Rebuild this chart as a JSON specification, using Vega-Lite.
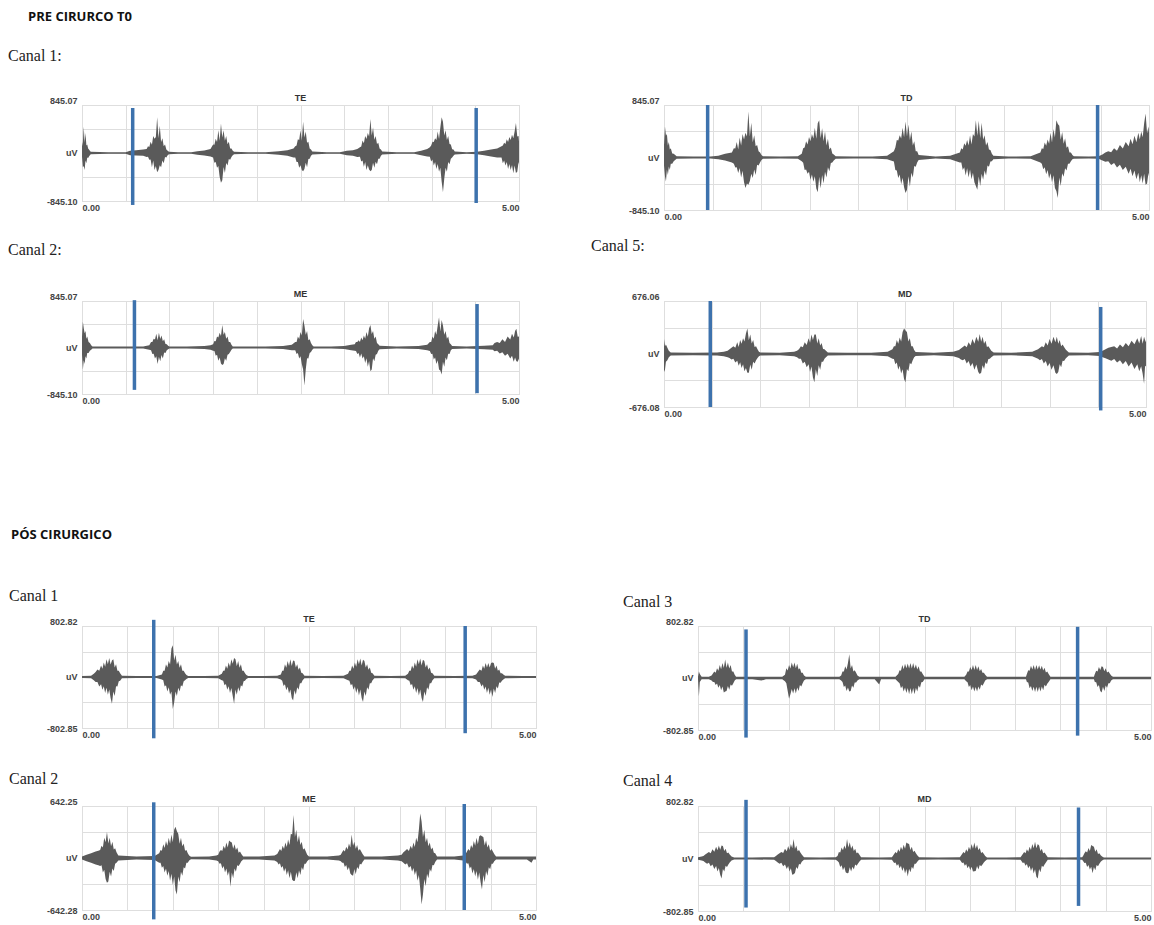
{
"$schema":"https://vega.github.io/schema/vega-lite/v6.json",
"padding":{"left":7,"top":10,"right":0,"bottom":0},
"autosize":{"type":"pad"},
"spacing":109,
"config":{"view":{"stroke":"#cfcfcf"},"axis":{"gridColor":"#dedede","labelFont":"Liberation Sans","labelFontSize":9,"labelFontWeight":"bold","labelColor":"#444","ticks":false,"domain":false,"title":null,"labelOverlap":false},"title":{"font":"Liberation Serif","fontSize":16,"fontWeight":"normal","anchor":"start","frame":"group","color":"#222"},"area":{"color":"#5a5a5a"},"rule":{"color":"#3d72ad","strokeWidth":3.5},"text":{"font":"Liberation Sans","fontSize":9,"fontWeight":"bold","color":"#333","baseline":"bottom","dy":-2}},
"datasets":{
"preTE":[{"t":0,"v":120,"l":-65},{"t":0.01,"v":195,"l":-250},{"t":0.02,"v":460,"l":-230},{"t":0.03,"v":180,"l":-300},{"t":0.04,"v":350,"l":-130},{"t":0.05,"v":130,"l":-180},{"t":0.06,"v":150,"l":-80},{"t":0.07,"v":80,"l":-90},{"t":0.08,"v":60,"l":-60},{"t":0.09,"v":40,"l":-40},{"t":0.1,"v":20,"l":-20},{"t":0.3,"v":15,"l":-15},{"t":0.5,"v":15,"l":-15},{"t":0.55,"v":40,"l":-40},{"t":0.62,"v":50,"l":-45},{"t":0.7,"v":60,"l":-50},{"t":0.74,"v":70,"l":-70},{"t":0.755,"v":120,"l":-65},{"t":0.77,"v":105,"l":-120},{"t":0.785,"v":200,"l":-115},{"t":0.8,"v":145,"l":-250},{"t":0.815,"v":300,"l":-130},{"t":0.83,"v":250,"l":-300},{"t":0.845,"v":280,"l":-230},{"t":0.86,"v":630,"l":-340},{"t":0.875,"v":260,"l":-300},{"t":0.89,"v":480,"l":-215},{"t":0.905,"v":195,"l":-250},{"t":0.92,"v":260,"l":-130},{"t":0.935,"v":120,"l":-180},{"t":0.95,"v":150,"l":-70},{"t":0.965,"v":60,"l":-80},{"t":0.98,"v":40,"l":-40},{"t":0.995,"v":20,"l":-20},{"t":1.1,"v":15,"l":-15},{"t":1.25,"v":15,"l":-15},{"t":1.32,"v":30,"l":-30},{"t":1.4,"v":45,"l":-45},{"t":1.47,"v":70,"l":-60},{"t":1.5,"v":150,"l":-80},{"t":1.515,"v":145,"l":-170},{"t":1.53,"v":250,"l":-160},{"t":1.545,"v":195,"l":-260},{"t":1.56,"v":400,"l":-230},{"t":1.575,"v":215,"l":-420},{"t":1.59,"v":520,"l":-525},{"t":1.605,"v":275,"l":-480},{"t":1.62,"v":400,"l":-245},{"t":1.635,"v":215,"l":-350},{"t":1.65,"v":300,"l":-175},{"t":1.665,"v":155,"l":-220},{"t":1.68,"v":200,"l":-105},{"t":1.695,"v":80,"l":-120},{"t":1.71,"v":80,"l":-70},{"t":1.725,"v":40,"l":-40},{"t":1.74,"v":20,"l":-20},{"t":1.9,"v":15,"l":-15},{"t":2.1,"v":15,"l":-15},{"t":2.25,"v":30,"l":-30},{"t":2.35,"v":50,"l":-50},{"t":2.42,"v":80,"l":-80},{"t":2.44,"v":120,"l":-80},{"t":2.455,"v":130,"l":-160},{"t":2.47,"v":240,"l":-160},{"t":2.485,"v":230,"l":-260},{"t":2.5,"v":400,"l":-215},{"t":2.515,"v":215,"l":-300},{"t":2.53,"v":550,"l":-320},{"t":2.545,"v":275,"l":-280},{"t":2.56,"v":380,"l":-170},{"t":2.575,"v":180,"l":-250},{"t":2.59,"v":200,"l":-105},{"t":2.605,"v":80,"l":-100},{"t":2.62,"v":60,"l":-50},{"t":2.635,"v":25,"l":-25},{"t":2.8,"v":15,"l":-15},{"t":2.95,"v":15,"l":-15},{"t":3.03,"v":40,"l":-40},{"t":3.1,"v":50,"l":-50},{"t":3.15,"v":70,"l":-70},{"t":3.18,"v":100,"l":-65},{"t":3.195,"v":115,"l":-150},{"t":3.21,"v":220,"l":-130},{"t":3.225,"v":170,"l":-240},{"t":3.24,"v":300,"l":-160},{"t":3.255,"v":245,"l":-300},{"t":3.27,"v":350,"l":-215},{"t":3.285,"v":290,"l":-290},{"t":3.3,"v":600,"l":-320},{"t":3.315,"v":310,"l":-300},{"t":3.33,"v":450,"l":-170},{"t":3.345,"v":235,"l":-260},{"t":3.36,"v":300,"l":-155},{"t":3.375,"v":160,"l":-200},{"t":3.39,"v":180,"l":-100},{"t":3.405,"v":80,"l":-100},{"t":3.42,"v":60,"l":-50},{"t":3.435,"v":25,"l":-25},{"t":3.6,"v":15,"l":-15},{"t":3.8,"v":15,"l":-15},{"t":3.88,"v":40,"l":-40},{"t":3.95,"v":70,"l":-60},{"t":3.98,"v":100,"l":-65},{"t":3.995,"v":130,"l":-150},{"t":4.01,"v":200,"l":-115},{"t":4.025,"v":195,"l":-220},{"t":4.04,"v":260,"l":-160},{"t":4.055,"v":230,"l":-280},{"t":4.07,"v":380,"l":-195},{"t":4.085,"v":245,"l":-330},{"t":4.1,"v":450,"l":-260},{"t":4.115,"v":630,"l":-500},{"t":4.13,"v":550,"l":-690},{"t":4.145,"v":310,"l":-450},{"t":4.16,"v":400,"l":-260},{"t":4.175,"v":230,"l":-330},{"t":4.19,"v":300,"l":-160},{"t":4.205,"v":160,"l":-200},{"t":4.22,"v":150,"l":-100},{"t":4.235,"v":65,"l":-80},{"t":4.25,"v":60,"l":-50},{"t":4.265,"v":25,"l":-25},{"t":4.4,"v":15,"l":-15},{"t":4.52,"v":20,"l":-20},{"t":4.6,"v":40,"l":-40},{"t":4.68,"v":60,"l":-60},{"t":4.75,"v":80,"l":-80},{"t":4.8,"v":120,"l":-80},{"t":4.815,"v":130,"l":-180},{"t":4.83,"v":180,"l":-130},{"t":4.845,"v":160,"l":-220},{"t":4.86,"v":240,"l":-160},{"t":4.875,"v":195,"l":-280},{"t":4.89,"v":280,"l":-195},{"t":4.905,"v":230,"l":-300},{"t":4.92,"v":320,"l":-210},{"t":4.935,"v":260,"l":-355},{"t":4.95,"v":380,"l":-220},{"t":4.965,"v":530,"l":-350},{"t":4.98,"v":290,"l":-330},{"t":4.995,"v":300,"l":-160},{"t":5.0,"v":200,"l":-200}],
"preTD":[{"t":0,"v":200,"l":-130},{"t":0.01,"v":500,"l":-300},{"t":0.02,"v":350,"l":-385},{"t":0.03,"v":380,"l":-195},{"t":0.04,"v":195,"l":-280},{"t":0.05,"v":250,"l":-145},{"t":0.06,"v":130,"l":-200},{"t":0.07,"v":150,"l":-100},{"t":0.085,"v":65,"l":-100},{"t":0.1,"v":60,"l":-60},{"t":0.115,"v":40,"l":-40},{"t":0.13,"v":20,"l":-20},{"t":0.3,"v":15,"l":-15},{"t":0.48,"v":15,"l":-15},{"t":0.56,"v":30,"l":-30},{"t":0.63,"v":60,"l":-50},{"t":0.7,"v":80,"l":-80},{"t":0.72,"v":150,"l":-100},{"t":0.735,"v":145,"l":-160},{"t":0.75,"v":250,"l":-155},{"t":0.765,"v":130,"l":-250},{"t":0.78,"v":320,"l":-170},{"t":0.795,"v":195,"l":-320},{"t":0.81,"v":380,"l":-215},{"t":0.825,"v":290,"l":-400},{"t":0.84,"v":400,"l":-490},{"t":0.855,"v":340,"l":-420},{"t":0.87,"v":740,"l":-440},{"t":0.885,"v":340,"l":-380},{"t":0.9,"v":560,"l":-260},{"t":0.915,"v":245,"l":-330},{"t":0.93,"v":360,"l":-195},{"t":0.945,"v":180,"l":-280},{"t":0.96,"v":200,"l":-115},{"t":0.975,"v":100,"l":-130},{"t":0.99,"v":80,"l":-80},{"t":1.005,"v":40,"l":-40},{"t":1.02,"v":20,"l":-20},{"t":1.2,"v":15,"l":-15},{"t":1.38,"v":20,"l":-20},{"t":1.42,"v":60,"l":-60},{"t":1.435,"v":150,"l":-85},{"t":1.45,"v":160,"l":-200},{"t":1.465,"v":260,"l":-195},{"t":1.48,"v":210,"l":-260},{"t":1.495,"v":330,"l":-230},{"t":1.51,"v":260,"l":-360},{"t":1.525,"v":380,"l":-275},{"t":1.54,"v":305,"l":-390},{"t":1.555,"v":480,"l":-300},{"t":1.57,"v":300,"l":-500},{"t":1.585,"v":550,"l":-560},{"t":1.6,"v":600,"l":-310},{"t":1.615,"v":310,"l":-500},{"t":1.63,"v":470,"l":-280},{"t":1.645,"v":260,"l":-420},{"t":1.66,"v":420,"l":-230},{"t":1.675,"v":195,"l":-320},{"t":1.69,"v":300,"l":-155},{"t":1.705,"v":130,"l":-220},{"t":1.72,"v":160,"l":-90},{"t":1.735,"v":65,"l":-80},{"t":1.75,"v":50,"l":-50},{"t":1.77,"v":20,"l":-20},{"t":1.95,"v":15,"l":-15},{"t":2.15,"v":15,"l":-15},{"t":2.3,"v":30,"l":-30},{"t":2.37,"v":100,"l":-65},{"t":2.385,"v":160,"l":-200},{"t":2.4,"v":280,"l":-210},{"t":2.415,"v":275,"l":-330},{"t":2.43,"v":360,"l":-275},{"t":2.445,"v":305,"l":-430},{"t":2.46,"v":480,"l":-325},{"t":2.475,"v":325,"l":-480},{"t":2.49,"v":580,"l":-570},{"t":2.505,"v":340,"l":-520},{"t":2.52,"v":530,"l":-300},{"t":2.535,"v":280,"l":-470},{"t":2.55,"v":420,"l":-245},{"t":2.565,"v":195,"l":-320},{"t":2.58,"v":260,"l":-135},{"t":2.595,"v":100,"l":-150},{"t":2.61,"v":100,"l":-80},{"t":2.625,"v":40,"l":-40},{"t":2.8,"v":15,"l":-15},{"t":2.95,"v":30,"l":-30},{"t":3.05,"v":80,"l":-80},{"t":3.065,"v":150,"l":-80},{"t":3.08,"v":130,"l":-200},{"t":3.095,"v":230,"l":-155},{"t":3.11,"v":190,"l":-290},{"t":3.125,"v":280,"l":-175},{"t":3.14,"v":195,"l":-320},{"t":3.155,"v":360,"l":-195},{"t":3.17,"v":210,"l":-350},{"t":3.185,"v":380,"l":-245},{"t":3.2,"v":340,"l":-400},{"t":3.215,"v":600,"l":-460},{"t":3.23,"v":350,"l":-520},{"t":3.245,"v":590,"l":-305},{"t":3.26,"v":310,"l":-460},{"t":3.275,"v":560,"l":-260},{"t":3.29,"v":285,"l":-360},{"t":3.305,"v":360,"l":-210},{"t":3.32,"v":195,"l":-290},{"t":3.335,"v":250,"l":-130},{"t":3.35,"v":130,"l":-150},{"t":3.365,"v":120,"l":-65},{"t":3.38,"v":60,"l":-60},{"t":3.395,"v":30,"l":-30},{"t":3.55,"v":15,"l":-15},{"t":3.78,"v":20,"l":-20},{"t":3.88,"v":80,"l":-80},{"t":3.895,"v":150,"l":-100},{"t":3.91,"v":135,"l":-190},{"t":3.925,"v":240,"l":-155},{"t":3.94,"v":190,"l":-270},{"t":3.955,"v":290,"l":-200},{"t":3.97,"v":220,"l":-340},{"t":3.985,"v":400,"l":-255},{"t":4.0,"v":240,"l":-400},{"t":4.015,"v":460,"l":-285},{"t":4.03,"v":320,"l":-490},{"t":4.045,"v":600,"l":-540},{"t":4.06,"v":540,"l":-650},{"t":4.075,"v":510,"l":-320},{"t":4.09,"v":285,"l":-460},{"t":4.105,"v":410,"l":-255},{"t":4.12,"v":220,"l":-310},{"t":4.135,"v":310,"l":-175},{"t":4.15,"v":155,"l":-210},{"t":4.165,"v":180,"l":-100},{"t":4.18,"v":80,"l":-100},{"t":4.195,"v":80,"l":-60},{"t":4.21,"v":40,"l":-30},{"t":4.225,"v":20,"l":-20},{"t":4.38,"v":15,"l":-15},{"t":4.48,"v":20,"l":-20},{"t":4.52,"v":50,"l":-50},{"t":4.55,"v":80,"l":-70},{"t":4.58,"v":100,"l":-60},{"t":4.61,"v":85,"l":-120},{"t":4.64,"v":150,"l":-90},{"t":4.67,"v":110,"l":-160},{"t":4.7,"v":200,"l":-115},{"t":4.73,"v":145,"l":-200},{"t":4.76,"v":250,"l":-150},{"t":4.79,"v":180,"l":-260},{"t":4.81,"v":300,"l":-180},{"t":4.83,"v":215,"l":-300},{"t":4.85,"v":350,"l":-210},{"t":4.87,"v":245,"l":-350},{"t":4.89,"v":400,"l":-245},{"t":4.905,"v":290,"l":-400},{"t":4.92,"v":420,"l":-285},{"t":4.935,"v":325,"l":-420},{"t":4.95,"v":550,"l":-260},{"t":4.965,"v":710,"l":-440},{"t":4.98,"v":390,"l":-420},{"t":4.995,"v":500,"l":-245},{"t":5.0,"v":400,"l":-300}],
"preME":[{"t":0,"v":200,"l":-130},{"t":0.01,"v":470,"l":-400},{"t":0.02,"v":350,"l":-230},{"t":0.03,"v":260,"l":-300},{"t":0.04,"v":300,"l":-160},{"t":0.05,"v":160,"l":-200},{"t":0.06,"v":200,"l":-100},{"t":0.075,"v":100,"l":-100},{"t":0.09,"v":80,"l":-60},{"t":0.105,"v":40,"l":-40},{"t":0.12,"v":20,"l":-20},{"t":0.3,"v":20,"l":-20},{"t":0.5,"v":20,"l":-20},{"t":0.7,"v":20,"l":-20},{"t":0.77,"v":40,"l":-40},{"t":0.79,"v":100,"l":-50},{"t":0.805,"v":100,"l":-120},{"t":0.82,"v":160,"l":-115},{"t":0.835,"v":145,"l":-200},{"t":0.85,"v":250,"l":-160},{"t":0.865,"v":130,"l":-300},{"t":0.88,"v":270,"l":-170},{"t":0.895,"v":155,"l":-250},{"t":0.91,"v":220,"l":-135},{"t":0.925,"v":115,"l":-200},{"t":0.94,"v":150,"l":-90},{"t":0.955,"v":65,"l":-100},{"t":0.97,"v":60,"l":-50},{"t":0.985,"v":30,"l":-30},{"t":1.0,"v":20,"l":-20},{"t":1.2,"v":20,"l":-20},{"t":1.4,"v":25,"l":-25},{"t":1.47,"v":40,"l":-40},{"t":1.5,"v":60,"l":-60},{"t":1.515,"v":120,"l":-65},{"t":1.53,"v":115,"l":-150},{"t":1.545,"v":200,"l":-130},{"t":1.56,"v":180,"l":-240},{"t":1.575,"v":270,"l":-180},{"t":1.59,"v":210,"l":-290},{"t":1.605,"v":410,"l":-320},{"t":1.62,"v":230,"l":-300},{"t":1.635,"v":280,"l":-195},{"t":1.65,"v":160,"l":-240},{"t":1.665,"v":200,"l":-130},{"t":1.68,"v":100,"l":-120},{"t":1.695,"v":100,"l":-80},{"t":1.71,"v":50,"l":-40},{"t":1.725,"v":20,"l":-20},{"t":1.9,"v":20,"l":-20},{"t":2.1,"v":20,"l":-20},{"t":2.3,"v":25,"l":-25},{"t":2.4,"v":50,"l":-50},{"t":2.44,"v":100,"l":-50},{"t":2.455,"v":100,"l":-120},{"t":2.47,"v":200,"l":-100},{"t":2.485,"v":155,"l":-200},{"t":2.5,"v":280,"l":-160},{"t":2.515,"v":220,"l":-300},{"t":2.53,"v":520,"l":-400},{"t":2.545,"v":400,"l":-690},{"t":2.56,"v":230,"l":-400},{"t":2.575,"v":300,"l":-195},{"t":2.59,"v":130,"l":-200},{"t":2.605,"v":150,"l":-100},{"t":2.62,"v":80,"l":-80},{"t":2.635,"v":40,"l":-40},{"t":2.65,"v":20,"l":-20},{"t":2.85,"v":20,"l":-20},{"t":3.0,"v":25,"l":-25},{"t":3.08,"v":50,"l":-50},{"t":3.12,"v":60,"l":-60},{"t":3.135,"v":100,"l":-65},{"t":3.15,"v":100,"l":-120},{"t":3.165,"v":130,"l":-100},{"t":3.18,"v":100,"l":-180},{"t":3.195,"v":180,"l":-110},{"t":3.21,"v":130,"l":-200},{"t":3.225,"v":220,"l":-160},{"t":3.24,"v":160,"l":-280},{"t":3.255,"v":280,"l":-195},{"t":3.27,"v":195,"l":-350},{"t":3.285,"v":350,"l":-245},{"t":3.3,"v":410,"l":-430},{"t":3.315,"v":245,"l":-400},{"t":3.33,"v":300,"l":-195},{"t":3.345,"v":160,"l":-250},{"t":3.36,"v":200,"l":-130},{"t":3.375,"v":80,"l":-120},{"t":3.39,"v":60,"l":-60},{"t":3.405,"v":30,"l":-30},{"t":3.6,"v":20,"l":-20},{"t":3.85,"v":25,"l":-25},{"t":3.95,"v":50,"l":-50},{"t":3.98,"v":100,"l":-65},{"t":3.995,"v":100,"l":-120},{"t":4.01,"v":200,"l":-115},{"t":4.025,"v":160,"l":-220},{"t":4.04,"v":300,"l":-180},{"t":4.055,"v":230,"l":-300},{"t":4.07,"v":400,"l":-230},{"t":4.085,"v":550,"l":-400},{"t":4.1,"v":290,"l":-420},{"t":4.115,"v":500,"l":-490},{"t":4.13,"v":400,"l":-260},{"t":4.145,"v":230,"l":-350},{"t":4.16,"v":300,"l":-180},{"t":4.175,"v":160,"l":-230},{"t":4.19,"v":200,"l":-115},{"t":4.205,"v":80,"l":-120},{"t":4.22,"v":60,"l":-50},{"t":4.235,"v":25,"l":-25},{"t":4.4,"v":20,"l":-20},{"t":4.6,"v":30,"l":-30},{"t":4.7,"v":40,"l":-40},{"t":4.72,"v":80,"l":-70},{"t":4.75,"v":100,"l":-60},{"t":4.78,"v":80,"l":-110},{"t":4.81,"v":150,"l":-85},{"t":4.84,"v":100,"l":-150},{"t":4.87,"v":200,"l":-115},{"t":4.9,"v":145,"l":-200},{"t":4.92,"v":250,"l":-150},{"t":4.94,"v":180,"l":-260},{"t":4.955,"v":300,"l":-180},{"t":4.97,"v":340,"l":-250},{"t":4.985,"v":195,"l":-260},{"t":5.0,"v":200,"l":-200}],
"preMD":[{"t":0,"v":190,"l":-230},{"t":0.01,"v":100,"l":-200},{"t":0.02,"v":120,"l":-100},{"t":0.035,"v":80,"l":-80},{"t":0.05,"v":40,"l":-40},{"t":0.07,"v":20,"l":-20},{"t":0.3,"v":15,"l":-15},{"t":0.55,"v":20,"l":-20},{"t":0.62,"v":30,"l":-30},{"t":0.66,"v":40,"l":-40},{"t":0.68,"v":60,"l":-50},{"t":0.7,"v":80,"l":-70},{"t":0.72,"v":100,"l":-60},{"t":0.74,"v":80,"l":-110},{"t":0.76,"v":150,"l":-85},{"t":0.775,"v":90,"l":-150},{"t":0.79,"v":180,"l":-105},{"t":0.805,"v":130,"l":-180},{"t":0.82,"v":200,"l":-130},{"t":0.835,"v":160,"l":-220},{"t":0.85,"v":260,"l":-180},{"t":0.865,"v":325,"l":-240},{"t":0.88,"v":175,"l":-240},{"t":0.895,"v":250,"l":-135},{"t":0.91,"v":135,"l":-200},{"t":0.925,"v":180,"l":-100},{"t":0.94,"v":90,"l":-120},{"t":0.955,"v":100,"l":-80},{"t":0.97,"v":60,"l":-50},{"t":0.985,"v":30,"l":-30},{"t":1.0,"v":20,"l":-20},{"t":1.2,"v":15,"l":-15},{"t":1.35,"v":30,"l":-30},{"t":1.38,"v":40,"l":-40},{"t":1.4,"v":60,"l":-60},{"t":1.42,"v":100,"l":-60},{"t":1.44,"v":85,"l":-120},{"t":1.46,"v":150,"l":-100},{"t":1.48,"v":115,"l":-170},{"t":1.5,"v":200,"l":-130},{"t":1.515,"v":145,"l":-230},{"t":1.53,"v":250,"l":-160},{"t":1.545,"v":180,"l":-300},{"t":1.56,"v":250,"l":-360},{"t":1.575,"v":250,"l":-195},{"t":1.59,"v":135,"l":-280},{"t":1.605,"v":200,"l":-145},{"t":1.62,"v":110,"l":-200},{"t":1.635,"v":140,"l":-100},{"t":1.65,"v":65,"l":-100},{"t":1.665,"v":60,"l":-60},{"t":1.68,"v":40,"l":-40},{"t":1.7,"v":20,"l":-20},{"t":1.9,"v":15,"l":-15},{"t":2.15,"v":15,"l":-15},{"t":2.32,"v":30,"l":-30},{"t":2.37,"v":60,"l":-60},{"t":2.385,"v":100,"l":-65},{"t":2.4,"v":100,"l":-130},{"t":2.415,"v":180,"l":-110},{"t":2.43,"v":130,"l":-200},{"t":2.445,"v":210,"l":-150},{"t":2.46,"v":160,"l":-250},{"t":2.475,"v":280,"l":-195},{"t":2.49,"v":325,"l":-320},{"t":2.505,"v":300,"l":-360},{"t":2.52,"v":280,"l":-190},{"t":2.535,"v":160,"l":-220},{"t":2.55,"v":200,"l":-115},{"t":2.565,"v":100,"l":-130},{"t":2.58,"v":100,"l":-80},{"t":2.595,"v":50,"l":-40},{"t":2.61,"v":25,"l":-25},{"t":2.8,"v":15,"l":-15},{"t":3.0,"v":30,"l":-30},{"t":3.06,"v":50,"l":-50},{"t":3.08,"v":70,"l":-70},{"t":3.1,"v":90,"l":-80},{"t":3.12,"v":110,"l":-65},{"t":3.14,"v":85,"l":-120},{"t":3.16,"v":150,"l":-90},{"t":3.18,"v":110,"l":-160},{"t":3.2,"v":190,"l":-115},{"t":3.22,"v":130,"l":-200},{"t":3.24,"v":220,"l":-135},{"t":3.26,"v":155,"l":-230},{"t":3.275,"v":255,"l":-255},{"t":3.29,"v":155,"l":-240},{"t":3.305,"v":220,"l":-145},{"t":3.32,"v":130,"l":-190},{"t":3.335,"v":170,"l":-105},{"t":3.35,"v":90,"l":-130},{"t":3.365,"v":100,"l":-65},{"t":3.38,"v":70,"l":-60},{"t":3.395,"v":40,"l":-40},{"t":3.42,"v":20,"l":-20},{"t":3.6,"v":15,"l":-15},{"t":3.82,"v":30,"l":-30},{"t":3.88,"v":60,"l":-60},{"t":3.9,"v":80,"l":-80},{"t":3.92,"v":100,"l":-65},{"t":3.94,"v":85,"l":-120},{"t":3.96,"v":150,"l":-90},{"t":3.98,"v":110,"l":-160},{"t":4.0,"v":190,"l":-115},{"t":4.02,"v":130,"l":-200},{"t":4.04,"v":220,"l":-145},{"t":4.06,"v":150,"l":-240},{"t":4.075,"v":220,"l":-255},{"t":4.09,"v":130,"l":-230},{"t":4.105,"v":180,"l":-130},{"t":4.12,"v":100,"l":-170},{"t":4.135,"v":120,"l":-85},{"t":4.15,"v":90,"l":-90},{"t":4.165,"v":60,"l":-60},{"t":4.18,"v":40,"l":-40},{"t":4.2,"v":20,"l":-20},{"t":4.4,"v":15,"l":-15},{"t":4.52,"v":25,"l":-25},{"t":4.55,"v":40,"l":-40},{"t":4.58,"v":60,"l":-55},{"t":4.61,"v":80,"l":-70},{"t":4.64,"v":90,"l":-85},{"t":4.67,"v":100,"l":-65},{"t":4.7,"v":70,"l":-110},{"t":4.73,"v":120,"l":-80},{"t":4.76,"v":85,"l":-130},{"t":4.79,"v":140,"l":-90},{"t":4.82,"v":100,"l":-160},{"t":4.85,"v":170,"l":-110},{"t":4.88,"v":125,"l":-190},{"t":4.91,"v":200,"l":-130},{"t":4.93,"v":135,"l":-220},{"t":4.95,"v":230,"l":-155},{"t":4.965,"v":130,"l":-250},{"t":4.98,"v":220,"l":-380},{"t":4.99,"v":180,"l":-160},{"t":5.0,"v":150,"l":-150}],
"postTE":[{"t":0,"v":15,"l":-15},{"t":0.1,"v":20,"l":-20},{"t":0.13,"v":50,"l":-50},{"t":0.15,"v":80,"l":-80},{"t":0.17,"v":120,"l":-80},{"t":0.19,"v":100,"l":-150},{"t":0.21,"v":180,"l":-115},{"t":0.225,"v":130,"l":-200},{"t":0.24,"v":230,"l":-145},{"t":0.255,"v":160,"l":-250},{"t":0.27,"v":280,"l":-170},{"t":0.285,"v":200,"l":-280},{"t":0.3,"v":300,"l":-195},{"t":0.315,"v":195,"l":-330},{"t":0.33,"v":260,"l":-420},{"t":0.345,"v":280,"l":-230},{"t":0.36,"v":150,"l":-300},{"t":0.375,"v":200,"l":-145},{"t":0.39,"v":100,"l":-150},{"t":0.405,"v":100,"l":-65},{"t":0.42,"v":60,"l":-60},{"t":0.44,"v":20,"l":-20},{"t":0.6,"v":15,"l":-15},{"t":0.82,"v":15,"l":-15},{"t":0.88,"v":40,"l":-40},{"t":0.895,"v":100,"l":-50},{"t":0.91,"v":100,"l":-150},{"t":0.925,"v":200,"l":-130},{"t":0.94,"v":150,"l":-230},{"t":0.955,"v":250,"l":-160},{"t":0.97,"v":195,"l":-280},{"t":0.985,"v":450,"l":-230},{"t":1.0,"v":500,"l":-505},{"t":1.015,"v":260,"l":-400},{"t":1.03,"v":350,"l":-230},{"t":1.045,"v":195,"l":-300},{"t":1.06,"v":250,"l":-170},{"t":1.075,"v":145,"l":-230},{"t":1.09,"v":200,"l":-130},{"t":1.105,"v":100,"l":-150},{"t":1.12,"v":100,"l":-65},{"t":1.135,"v":60,"l":-50},{"t":1.15,"v":30,"l":-30},{"t":1.17,"v":15,"l":-15},{"t":1.35,"v":15,"l":-15},{"t":1.5,"v":20,"l":-20},{"t":1.54,"v":50,"l":-50},{"t":1.555,"v":100,"l":-60},{"t":1.57,"v":100,"l":-130},{"t":1.585,"v":180,"l":-110},{"t":1.6,"v":130,"l":-200},{"t":1.615,"v":230,"l":-145},{"t":1.63,"v":160,"l":-250},{"t":1.645,"v":280,"l":-175},{"t":1.66,"v":210,"l":-300},{"t":1.675,"v":300,"l":-420},{"t":1.69,"v":280,"l":-195},{"t":1.705,"v":170,"l":-280},{"t":1.72,"v":250,"l":-160},{"t":1.735,"v":145,"l":-230},{"t":1.75,"v":200,"l":-130},{"t":1.765,"v":100,"l":-150},{"t":1.78,"v":100,"l":-65},{"t":1.795,"v":60,"l":-60},{"t":1.81,"v":30,"l":-30},{"t":1.83,"v":15,"l":-15},{"t":2.0,"v":15,"l":-15},{"t":2.15,"v":20,"l":-20},{"t":2.19,"v":40,"l":-40},{"t":2.205,"v":100,"l":-60},{"t":2.22,"v":100,"l":-140},{"t":2.235,"v":200,"l":-115},{"t":2.25,"v":145,"l":-210},{"t":2.265,"v":250,"l":-155},{"t":2.28,"v":175,"l":-260},{"t":2.295,"v":280,"l":-195},{"t":2.31,"v":175,"l":-330},{"t":2.325,"v":260,"l":-370},{"t":2.34,"v":250,"l":-210},{"t":2.355,"v":150,"l":-280},{"t":2.37,"v":200,"l":-160},{"t":2.385,"v":115,"l":-200},{"t":2.4,"v":150,"l":-100},{"t":2.415,"v":65,"l":-100},{"t":2.43,"v":60,"l":-50},{"t":2.45,"v":20,"l":-20},{"t":2.65,"v":15,"l":-15},{"t":2.88,"v":20,"l":-20},{"t":2.93,"v":50,"l":-50},{"t":2.945,"v":100,"l":-60},{"t":2.96,"v":100,"l":-130},{"t":2.975,"v":180,"l":-110},{"t":2.99,"v":130,"l":-200},{"t":3.005,"v":230,"l":-145},{"t":3.02,"v":160,"l":-250},{"t":3.035,"v":280,"l":-175},{"t":3.05,"v":200,"l":-290},{"t":3.065,"v":290,"l":-195},{"t":3.08,"v":180,"l":-330},{"t":3.095,"v":270,"l":-395},{"t":3.11,"v":250,"l":-230},{"t":3.125,"v":150,"l":-300},{"t":3.14,"v":200,"l":-160},{"t":3.155,"v":115,"l":-200},{"t":3.17,"v":150,"l":-100},{"t":3.185,"v":65,"l":-100},{"t":3.2,"v":60,"l":-50},{"t":3.22,"v":20,"l":-20},{"t":3.4,"v":15,"l":-15},{"t":3.56,"v":20,"l":-20},{"t":3.59,"v":50,"l":-50},{"t":3.605,"v":100,"l":-60},{"t":3.62,"v":100,"l":-130},{"t":3.635,"v":180,"l":-110},{"t":3.65,"v":130,"l":-200},{"t":3.665,"v":230,"l":-145},{"t":3.68,"v":160,"l":-250},{"t":3.695,"v":280,"l":-175},{"t":3.71,"v":200,"l":-290},{"t":3.725,"v":290,"l":-195},{"t":3.74,"v":180,"l":-330},{"t":3.755,"v":270,"l":-395},{"t":3.77,"v":250,"l":-230},{"t":3.785,"v":150,"l":-300},{"t":3.8,"v":200,"l":-160},{"t":3.815,"v":115,"l":-200},{"t":3.83,"v":150,"l":-100},{"t":3.845,"v":65,"l":-100},{"t":3.86,"v":60,"l":-50},{"t":3.88,"v":20,"l":-20},{"t":4.1,"v":15,"l":-15},{"t":4.3,"v":20,"l":-20},{"t":4.34,"v":40,"l":-40},{"t":4.36,"v":80,"l":-80},{"t":4.38,"v":120,"l":-80},{"t":4.4,"v":100,"l":-150},{"t":4.415,"v":180,"l":-115},{"t":4.43,"v":130,"l":-200},{"t":4.445,"v":220,"l":-150},{"t":4.46,"v":150,"l":-250},{"t":4.475,"v":220,"l":-170},{"t":4.49,"v":150,"l":-280},{"t":4.505,"v":220,"l":-195},{"t":4.52,"v":230,"l":-315},{"t":4.535,"v":220,"l":-180},{"t":4.55,"v":130,"l":-250},{"t":4.565,"v":180,"l":-145},{"t":4.58,"v":100,"l":-180},{"t":4.595,"v":120,"l":-85},{"t":4.61,"v":60,"l":-90},{"t":4.625,"v":60,"l":-60},{"t":4.64,"v":40,"l":-40},{"t":4.66,"v":20,"l":-20},{"t":4.85,"v":15,"l":-15},{"t":5.0,"v":15,"l":-15}],
"postTD":[{"t":0,"v":20,"l":-20},{"t":0.01,"v":100,"l":-280},{"t":0.02,"v":60,"l":-60},{"t":0.04,"v":20,"l":-20},{"t":0.12,"v":20,"l":-20},{"t":0.15,"v":40,"l":-40},{"t":0.165,"v":70,"l":-60},{"t":0.18,"v":100,"l":-60},{"t":0.195,"v":80,"l":-110},{"t":0.21,"v":150,"l":-85},{"t":0.225,"v":110,"l":-150},{"t":0.24,"v":200,"l":-110},{"t":0.255,"v":135,"l":-190},{"t":0.27,"v":230,"l":-130},{"t":0.285,"v":155,"l":-225},{"t":0.3,"v":285,"l":-210},{"t":0.315,"v":160,"l":-200},{"t":0.33,"v":240,"l":-125},{"t":0.345,"v":145,"l":-180},{"t":0.36,"v":200,"l":-100},{"t":0.375,"v":100,"l":-120},{"t":0.39,"v":100,"l":-80},{"t":0.405,"v":50,"l":-40},{"t":0.42,"v":20,"l":-20},{"t":0.6,"v":20,"l":-20},{"t":0.7,"v":20,"l":-40},{"t":0.75,"v":20,"l":-20},{"t":0.93,"v":20,"l":-20},{"t":0.96,"v":50,"l":-50},{"t":0.975,"v":150,"l":-80},{"t":0.99,"v":115,"l":-200},{"t":1.005,"v":200,"l":-320},{"t":1.02,"v":145,"l":-250},{"t":1.035,"v":240,"l":-170},{"t":1.05,"v":165,"l":-240},{"t":1.065,"v":240,"l":-160},{"t":1.08,"v":150,"l":-240},{"t":1.095,"v":220,"l":-145},{"t":1.11,"v":130,"l":-200},{"t":1.125,"v":150,"l":-110},{"t":1.14,"v":80,"l":-130},{"t":1.155,"v":80,"l":-80},{"t":1.17,"v":40,"l":-40},{"t":1.19,"v":20,"l":-20},{"t":1.4,"v":20,"l":-20},{"t":1.56,"v":20,"l":-20},{"t":1.58,"v":40,"l":-40},{"t":1.595,"v":100,"l":-60},{"t":1.61,"v":100,"l":-140},{"t":1.625,"v":180,"l":-115},{"t":1.64,"v":130,"l":-200},{"t":1.655,"v":230,"l":-145},{"t":1.67,"v":365,"l":-210},{"t":1.685,"v":145,"l":-200},{"t":1.7,"v":200,"l":-115},{"t":1.715,"v":100,"l":-150},{"t":1.73,"v":120,"l":-70},{"t":1.745,"v":80,"l":-70},{"t":1.76,"v":40,"l":-40},{"t":1.78,"v":20,"l":-20},{"t":1.95,"v":20,"l":-20},{"t":2.0,"v":20,"l":-100},{"t":2.02,"v":20,"l":-20},{"t":2.18,"v":20,"l":-20},{"t":2.21,"v":60,"l":-60},{"t":2.225,"v":120,"l":-80},{"t":2.24,"v":110,"l":-160},{"t":2.255,"v":200,"l":-125},{"t":2.27,"v":135,"l":-210},{"t":2.285,"v":220,"l":-145},{"t":2.3,"v":150,"l":-230},{"t":2.315,"v":225,"l":-155},{"t":2.33,"v":145,"l":-250},{"t":2.345,"v":230,"l":-155},{"t":2.36,"v":145,"l":-250},{"t":2.375,"v":230,"l":-155},{"t":2.39,"v":145,"l":-250},{"t":2.405,"v":210,"l":-150},{"t":2.42,"v":130,"l":-210},{"t":2.435,"v":180,"l":-115},{"t":2.45,"v":100,"l":-150},{"t":2.465,"v":100,"l":-65},{"t":2.48,"v":60,"l":-60},{"t":2.5,"v":20,"l":-20},{"t":2.7,"v":20,"l":-20},{"t":2.94,"v":20,"l":-20},{"t":2.96,"v":50,"l":-50},{"t":2.975,"v":100,"l":-65},{"t":2.99,"v":100,"l":-140},{"t":3.005,"v":170,"l":-110},{"t":3.02,"v":125,"l":-190},{"t":3.035,"v":200,"l":-130},{"t":3.05,"v":125,"l":-210},{"t":3.065,"v":200,"l":-140},{"t":3.08,"v":125,"l":-210},{"t":3.095,"v":180,"l":-130},{"t":3.11,"v":105,"l":-180},{"t":3.125,"v":140,"l":-100},{"t":3.14,"v":80,"l":-120},{"t":3.155,"v":80,"l":-80},{"t":3.17,"v":50,"l":-40},{"t":3.19,"v":20,"l":-20},{"t":3.4,"v":20,"l":-20},{"t":3.62,"v":20,"l":-20},{"t":3.63,"v":60,"l":-60},{"t":3.645,"v":120,"l":-70},{"t":3.66,"v":110,"l":-160},{"t":3.675,"v":190,"l":-125},{"t":3.69,"v":130,"l":-200},{"t":3.705,"v":200,"l":-135},{"t":3.72,"v":125,"l":-215},{"t":3.735,"v":200,"l":-135},{"t":3.75,"v":130,"l":-215},{"t":3.765,"v":195,"l":-135},{"t":3.78,"v":130,"l":-210},{"t":3.795,"v":190,"l":-130},{"t":3.81,"v":115,"l":-190},{"t":3.825,"v":160,"l":-105},{"t":3.84,"v":85,"l":-130},{"t":3.855,"v":100,"l":-90},{"t":3.87,"v":60,"l":-60},{"t":3.89,"v":20,"l":-20},{"t":4.1,"v":20,"l":-20},{"t":4.37,"v":20,"l":-20},{"t":4.38,"v":60,"l":-60},{"t":4.395,"v":110,"l":-65},{"t":4.41,"v":100,"l":-140},{"t":4.425,"v":170,"l":-110},{"t":4.44,"v":125,"l":-200},{"t":4.455,"v":180,"l":-225},{"t":4.47,"v":170,"l":-135},{"t":4.485,"v":105,"l":-200},{"t":4.5,"v":150,"l":-115},{"t":4.515,"v":85,"l":-150},{"t":4.53,"v":100,"l":-80},{"t":4.545,"v":70,"l":-80},{"t":4.56,"v":40,"l":-40},{"t":4.58,"v":20,"l":-20},{"t":4.8,"v":20,"l":-20},{"t":5.0,"v":20,"l":-20}],
"postME":[{"t":0,"v":20,"l":-20},{"t":0.05,"v":40,"l":-40},{"t":0.1,"v":60,"l":-60},{"t":0.15,"v":80,"l":-80},{"t":0.18,"v":90,"l":-90},{"t":0.2,"v":100,"l":-100},{"t":0.215,"v":150,"l":-90},{"t":0.23,"v":130,"l":-180},{"t":0.245,"v":250,"l":-145},{"t":0.26,"v":195,"l":-260},{"t":0.275,"v":320,"l":-305},{"t":0.29,"v":180,"l":-290},{"t":0.305,"v":250,"l":-170},{"t":0.32,"v":145,"l":-230},{"t":0.335,"v":200,"l":-130},{"t":0.35,"v":105,"l":-160},{"t":0.365,"v":120,"l":-70},{"t":0.38,"v":70,"l":-60},{"t":0.4,"v":30,"l":-30},{"t":0.6,"v":20,"l":-20},{"t":0.8,"v":25,"l":-25},{"t":0.85,"v":60,"l":-60},{"t":0.865,"v":100,"l":-60},{"t":0.88,"v":90,"l":-120},{"t":0.895,"v":170,"l":-100},{"t":0.91,"v":125,"l":-180},{"t":0.925,"v":210,"l":-130},{"t":0.94,"v":150,"l":-220},{"t":0.955,"v":250,"l":-160},{"t":0.97,"v":175,"l":-280},{"t":0.985,"v":290,"l":-195},{"t":1.0,"v":195,"l":-330},{"t":1.015,"v":350,"l":-230},{"t":1.03,"v":385,"l":-400},{"t":1.045,"v":330,"l":-450},{"t":1.06,"v":300,"l":-230},{"t":1.075,"v":175,"l":-300},{"t":1.09,"v":250,"l":-170},{"t":1.105,"v":145,"l":-220},{"t":1.12,"v":180,"l":-115},{"t":1.135,"v":90,"l":-130},{"t":1.15,"v":100,"l":-60},{"t":1.165,"v":60,"l":-60},{"t":1.18,"v":30,"l":-30},{"t":1.2,"v":15,"l":-15},{"t":1.4,"v":20,"l":-20},{"t":1.48,"v":30,"l":-30},{"t":1.5,"v":40,"l":-40},{"t":1.515,"v":80,"l":-70},{"t":1.53,"v":100,"l":-65},{"t":1.545,"v":85,"l":-130},{"t":1.56,"v":150,"l":-100},{"t":1.575,"v":110,"l":-180},{"t":1.59,"v":190,"l":-130},{"t":1.605,"v":130,"l":-220},{"t":1.62,"v":215,"l":-160},{"t":1.635,"v":200,"l":-355},{"t":1.65,"v":190,"l":-180},{"t":1.665,"v":115,"l":-250},{"t":1.68,"v":170,"l":-130},{"t":1.695,"v":100,"l":-170},{"t":1.71,"v":130,"l":-90},{"t":1.725,"v":65,"l":-100},{"t":1.74,"v":80,"l":-70},{"t":1.755,"v":50,"l":-40},{"t":1.775,"v":20,"l":-20},{"t":1.95,"v":20,"l":-20},{"t":2.12,"v":30,"l":-30},{"t":2.15,"v":50,"l":-50},{"t":2.165,"v":80,"l":-80},{"t":2.18,"v":110,"l":-65},{"t":2.195,"v":85,"l":-120},{"t":2.21,"v":150,"l":-100},{"t":2.225,"v":110,"l":-170},{"t":2.24,"v":190,"l":-125},{"t":2.255,"v":135,"l":-210},{"t":2.27,"v":230,"l":-150},{"t":2.285,"v":160,"l":-250},{"t":2.3,"v":300,"l":-170},{"t":2.315,"v":290,"l":-270},{"t":2.33,"v":530,"l":-285},{"t":2.345,"v":260,"l":-280},{"t":2.36,"v":350,"l":-175},{"t":2.375,"v":195,"l":-250},{"t":2.39,"v":280,"l":-150},{"t":2.405,"v":160,"l":-210},{"t":2.42,"v":200,"l":-115},{"t":2.435,"v":105,"l":-150},{"t":2.45,"v":120,"l":-70},{"t":2.465,"v":80,"l":-70},{"t":2.48,"v":40,"l":-40},{"t":2.5,"v":20,"l":-20},{"t":2.7,"v":20,"l":-20},{"t":2.83,"v":30,"l":-30},{"t":2.85,"v":40,"l":-40},{"t":2.865,"v":70,"l":-60},{"t":2.88,"v":100,"l":-60},{"t":2.895,"v":80,"l":-110},{"t":2.91,"v":140,"l":-85},{"t":2.925,"v":105,"l":-150},{"t":2.94,"v":180,"l":-110},{"t":2.955,"v":130,"l":-190},{"t":2.97,"v":290,"l":-210},{"t":2.985,"v":150,"l":-220},{"t":3.0,"v":200,"l":-135},{"t":3.015,"v":115,"l":-200},{"t":3.03,"v":160,"l":-110},{"t":3.045,"v":90,"l":-140},{"t":3.06,"v":110,"l":-70},{"t":3.075,"v":80,"l":-80},{"t":3.09,"v":50,"l":-50},{"t":3.11,"v":20,"l":-20},{"t":3.3,"v":20,"l":-20},{"t":3.48,"v":30,"l":-30},{"t":3.52,"v":40,"l":-40},{"t":3.54,"v":70,"l":-60},{"t":3.56,"v":90,"l":-80},{"t":3.58,"v":110,"l":-65},{"t":3.6,"v":85,"l":-120},{"t":3.62,"v":150,"l":-100},{"t":3.635,"v":110,"l":-170},{"t":3.65,"v":190,"l":-125},{"t":3.665,"v":135,"l":-210},{"t":3.68,"v":250,"l":-155},{"t":3.695,"v":195,"l":-280},{"t":3.71,"v":350,"l":-210},{"t":3.725,"v":550,"l":-380},{"t":3.74,"v":450,"l":-575},{"t":3.755,"v":260,"l":-450},{"t":3.77,"v":350,"l":-260},{"t":3.785,"v":195,"l":-350},{"t":3.8,"v":250,"l":-195},{"t":3.815,"v":145,"l":-250},{"t":3.83,"v":190,"l":-135},{"t":3.845,"v":105,"l":-170},{"t":3.86,"v":130,"l":-85},{"t":3.875,"v":65,"l":-90},{"t":3.89,"v":60,"l":-50},{"t":3.91,"v":20,"l":-20},{"t":4.1,"v":20,"l":-20},{"t":4.2,"v":30,"l":-30},{"t":4.22,"v":40,"l":-40},{"t":4.24,"v":80,"l":-70},{"t":4.255,"v":110,"l":-65},{"t":4.27,"v":90,"l":-130},{"t":4.285,"v":160,"l":-105},{"t":4.3,"v":125,"l":-190},{"t":4.315,"v":210,"l":-135},{"t":4.33,"v":150,"l":-230},{"t":4.345,"v":250,"l":-160},{"t":4.36,"v":170,"l":-270},{"t":4.375,"v":270,"l":-180},{"t":4.39,"v":280,"l":-300},{"t":4.405,"v":270,"l":-390},{"t":4.42,"v":260,"l":-210},{"t":4.435,"v":155,"l":-300},{"t":4.45,"v":220,"l":-160},{"t":4.465,"v":130,"l":-220},{"t":4.48,"v":170,"l":-115},{"t":4.495,"v":90,"l":-140},{"t":4.51,"v":110,"l":-70},{"t":4.525,"v":80,"l":-70},{"t":4.54,"v":50,"l":-40},{"t":4.56,"v":20,"l":-20},{"t":4.75,"v":20,"l":-20},{"t":4.9,"v":20,"l":-20},{"t":4.95,"v":20,"l":-60},{"t":4.97,"v":20,"l":-20},{"t":5.0,"v":20,"l":-20}],
"postMD":[{"t":0,"v":20,"l":-20},{"t":0.04,"v":30,"l":-30},{"t":0.06,"v":40,"l":-40},{"t":0.08,"v":60,"l":-60},{"t":0.1,"v":80,"l":-80},{"t":0.12,"v":100,"l":-65},{"t":0.14,"v":80,"l":-120},{"t":0.16,"v":140,"l":-90},{"t":0.18,"v":105,"l":-160},{"t":0.2,"v":180,"l":-115},{"t":0.215,"v":125,"l":-200},{"t":0.23,"v":200,"l":-145},{"t":0.245,"v":135,"l":-250},{"t":0.26,"v":200,"l":-305},{"t":0.275,"v":190,"l":-160},{"t":0.29,"v":115,"l":-200},{"t":0.305,"v":150,"l":-110},{"t":0.32,"v":80,"l":-130},{"t":0.335,"v":90,"l":-90},{"t":0.35,"v":60,"l":-60},{"t":0.37,"v":30,"l":-30},{"t":0.4,"v":15,"l":-15},{"t":0.6,"v":15,"l":-15},{"t":0.84,"v":20,"l":-20},{"t":0.86,"v":40,"l":-40},{"t":0.88,"v":60,"l":-60},{"t":0.9,"v":80,"l":-80},{"t":0.92,"v":100,"l":-65},{"t":0.94,"v":85,"l":-120},{"t":0.96,"v":150,"l":-90},{"t":0.98,"v":110,"l":-160},{"t":0.995,"v":190,"l":-115},{"t":1.01,"v":130,"l":-200},{"t":1.025,"v":220,"l":-150},{"t":1.04,"v":155,"l":-250},{"t":1.055,"v":300,"l":-240},{"t":1.07,"v":145,"l":-220},{"t":1.085,"v":200,"l":-130},{"t":1.1,"v":110,"l":-160},{"t":1.115,"v":130,"l":-85},{"t":1.13,"v":90,"l":-90},{"t":1.145,"v":60,"l":-50},{"t":1.17,"v":20,"l":-20},{"t":1.35,"v":15,"l":-15},{"t":1.52,"v":20,"l":-20},{"t":1.54,"v":40,"l":-40},{"t":1.555,"v":100,"l":-60},{"t":1.57,"v":90,"l":-130},{"t":1.585,"v":170,"l":-105},{"t":1.6,"v":125,"l":-180},{"t":1.615,"v":200,"l":-130},{"t":1.63,"v":145,"l":-210},{"t":1.645,"v":300,"l":-225},{"t":1.66,"v":170,"l":-220},{"t":1.675,"v":250,"l":-135},{"t":1.69,"v":150,"l":-200},{"t":1.705,"v":200,"l":-125},{"t":1.72,"v":115,"l":-170},{"t":1.735,"v":150,"l":-90},{"t":1.75,"v":80,"l":-110},{"t":1.765,"v":90,"l":-80},{"t":1.78,"v":60,"l":-50},{"t":1.8,"v":20,"l":-20},{"t":2.0,"v":15,"l":-15},{"t":2.14,"v":20,"l":-20},{"t":2.15,"v":40,"l":-40},{"t":2.165,"v":70,"l":-70},{"t":2.18,"v":100,"l":-60},{"t":2.195,"v":80,"l":-110},{"t":2.21,"v":140,"l":-85},{"t":2.225,"v":105,"l":-150},{"t":2.24,"v":180,"l":-110},{"t":2.255,"v":130,"l":-190},{"t":2.27,"v":210,"l":-135},{"t":2.285,"v":150,"l":-230},{"t":2.3,"v":245,"l":-160},{"t":2.315,"v":230,"l":-275},{"t":2.33,"v":220,"l":-155},{"t":2.345,"v":130,"l":-210},{"t":2.36,"v":180,"l":-125},{"t":2.375,"v":100,"l":-160},{"t":2.39,"v":120,"l":-80},{"t":2.405,"v":80,"l":-80},{"t":2.42,"v":50,"l":-50},{"t":2.44,"v":20,"l":-20},{"t":2.65,"v":15,"l":-15},{"t":2.89,"v":20,"l":-20},{"t":2.9,"v":40,"l":-40},{"t":2.915,"v":70,"l":-70},{"t":2.93,"v":100,"l":-60},{"t":2.945,"v":80,"l":-110},{"t":2.96,"v":140,"l":-85},{"t":2.975,"v":105,"l":-150},{"t":2.99,"v":180,"l":-110},{"t":3.005,"v":130,"l":-180},{"t":3.02,"v":220,"l":-125},{"t":3.035,"v":150,"l":-200},{"t":3.05,"v":245,"l":-195},{"t":3.065,"v":150,"l":-190},{"t":3.08,"v":210,"l":-115},{"t":3.095,"v":125,"l":-170},{"t":3.11,"v":160,"l":-100},{"t":3.125,"v":85,"l":-120},{"t":3.14,"v":100,"l":-90},{"t":3.155,"v":70,"l":-60},{"t":3.17,"v":40,"l":-40},{"t":3.19,"v":15,"l":-15},{"t":3.4,"v":15,"l":-15},{"t":3.56,"v":20,"l":-20},{"t":3.57,"v":40,"l":-40},{"t":3.585,"v":70,"l":-70},{"t":3.6,"v":100,"l":-60},{"t":3.615,"v":80,"l":-110},{"t":3.63,"v":140,"l":-85},{"t":3.645,"v":105,"l":-150},{"t":3.66,"v":180,"l":-110},{"t":3.675,"v":130,"l":-190},{"t":3.69,"v":220,"l":-135},{"t":3.705,"v":155,"l":-230},{"t":3.72,"v":255,"l":-165},{"t":3.735,"v":155,"l":-280},{"t":3.75,"v":220,"l":-305},{"t":3.765,"v":200,"l":-160},{"t":3.78,"v":115,"l":-210},{"t":3.795,"v":150,"l":-110},{"t":3.81,"v":80,"l":-130},{"t":3.825,"v":90,"l":-90},{"t":3.84,"v":60,"l":-60},{"t":3.86,"v":20,"l":-20},{"t":4.05,"v":15,"l":-15},{"t":4.24,"v":20,"l":-20},{"t":4.25,"v":40,"l":-40},{"t":4.265,"v":80,"l":-70},{"t":4.28,"v":110,"l":-65},{"t":4.295,"v":90,"l":-130},{"t":4.31,"v":160,"l":-100},{"t":4.325,"v":115,"l":-170},{"t":4.34,"v":205,"l":-125},{"t":4.355,"v":190,"l":-225},{"t":4.37,"v":180,"l":-130},{"t":4.385,"v":105,"l":-180},{"t":4.4,"v":140,"l":-100},{"t":4.415,"v":70,"l":-120},{"t":4.43,"v":80,"l":-80},{"t":4.445,"v":50,"l":-50},{"t":4.46,"v":30,"l":-30},{"t":4.48,"v":15,"l":-15},{"t":4.7,"v":15,"l":-15},{"t":5.0,"v":15,"l":-15}]
},
"vconcat":[
{"title":{"text":"PRE CIRURCO T0","font":"Open Sans","fontSize":13,"fontWeight":"bold","color":"#111","dx":-54,"offset":24},
 "spacing":15,
 "vconcat":[
  {"bounds":"flush","spacing":145,"hconcat":[
   {"width":437,"height":96,"title":{"text":"Canal 1:","dx":-74,"offset":30},
    "encoding":{"x":{"field":"t","type":"quantitative","scale":{"domain":[0,5],"nice":false,"zero":false},"axis":{"values":[0,0.5,1,1.5,2,2.5,3,3.5,4,4.5,5],"labelExpr":"datum.value==0?'0.00':datum.value==5?'5.00':''","labelFlush":true,"labelPadding":2,"grid":true}},
     "y":{"field":"v","type":"quantitative","scale":{"domain":[-845.1,845.07],"nice":false,"zero":false},"axis":{"values":[-845.1,-422.5,0,422.5,845.07],"labelExpr":"datum.value==0?'uV':datum.value>500?'845.07':datum.value<-500?'-845.10':''","labelBaseline":{"condition":{"test":"datum.value>500","value":"bottom"},"value":"middle"},"labelPadding":5,"grid":true}}},
    "layer":[
     {"data":{"name":"preTE"},"mark":"area","encoding":{"y2":{"field":"l"}}},
     {"data":{"values":[{"t":0.58,"v":792,"l":-915},{"t":4.51,"v":792,"l":-880}]},"mark":"rule","encoding":{"y2":{"field":"l"}}},
     {"data":{"values":[{"t":2.5,"v":845.07,"s":"TE"}]},"mark":"text","encoding":{"text":{"field":"s"}}}
    ]},
   {"width":485,"height":105,
    "encoding":{"x":{"field":"t","type":"quantitative","scale":{"domain":[0,5],"nice":false,"zero":false},"axis":{"values":[0,0.5,1,1.5,2,2.5,3,3.5,4,4.5,5],"labelExpr":"datum.value==0?'0.00':datum.value==5?'5.00':''","labelFlush":true,"labelPadding":2,"grid":true}},
     "y":{"field":"v","type":"quantitative","scale":{"domain":[-845.1,845.07],"nice":false,"zero":false},"axis":{"values":[-845.1,-422.5,0,422.5,845.07],"labelExpr":"datum.value==0?'uV':datum.value>500?'845.07':datum.value<-500?'-845.10':''","labelBaseline":{"condition":{"test":"datum.value>500","value":"bottom"},"value":"middle"},"labelPadding":5,"grid":true}}},
    "layer":[
     {"data":{"name":"preTD"},"mark":"area","encoding":{"y2":{"field":"l"}}},
     {"data":{"values":[{"t":0.45,"v":845.07,"l":-845.1},{"t":4.47,"v":845.07,"l":-845.1}]},"mark":"rule","encoding":{"y2":{"field":"l"}}},
     {"data":{"values":[{"t":2.5,"v":845.07,"s":"TD"}]},"mark":"text","encoding":{"text":{"field":"s"}}}
    ]}
  ]},
  {"bounds":"flush","spacing":145,"hconcat":[
   {"width":437,"height":93,"title":{"text":"Canal 2:","dx":-74,"offset":32},
    "encoding":{"x":{"field":"t","type":"quantitative","scale":{"domain":[0,5],"nice":false,"zero":false},"axis":{"values":[0,0.5,1,1.5,2,2.5,3,3.5,4,4.5,5],"labelExpr":"datum.value==0?'0.00':datum.value==5?'5.00':''","labelFlush":true,"labelPadding":2,"grid":true}},
     "y":{"field":"v","type":"quantitative","scale":{"domain":[-845.1,845.07],"nice":false,"zero":false},"axis":{"values":[-845.1,-422.5,0,422.5,845.07],"labelExpr":"datum.value==0?'uV':datum.value>500?'845.07':datum.value<-500?'-845.10':''","labelBaseline":{"condition":{"test":"datum.value>500","value":"bottom"},"value":"middle"},"labelPadding":5,"grid":true}}},
    "layer":[
     {"data":{"name":"preME"},"mark":"area","encoding":{"y2":{"field":"l"}}},
     {"data":{"values":[{"t":0.6,"v":860,"l":-770},{"t":4.52,"v":790,"l":-830}]},"mark":"rule","encoding":{"y2":{"field":"l"}}},
     {"data":{"values":[{"t":2.5,"v":845.07,"s":"ME"}]},"mark":"text","encoding":{"text":{"field":"s"}}}
    ]},
   {"width":482,"height":106,"title":{"text":"Canal 5:","dx":-73,"offset":36},
    "encoding":{"x":{"field":"t","type":"quantitative","scale":{"domain":[0,5],"nice":false,"zero":false},"axis":{"values":[0,0.5,1,1.5,2,2.5,3,3.5,4,4.5,5],"labelExpr":"datum.value==0?'0.00':datum.value==5?'5.00':''","labelFlush":true,"labelPadding":2,"grid":true}},
     "y":{"field":"v","type":"quantitative","scale":{"domain":[-676.08,676.06],"nice":false,"zero":false},"axis":{"values":[-676.08,-338,0,338,676.06],"labelExpr":"datum.value==0?'uV':datum.value>500?'676.06':datum.value<-500?'-676.08':''","labelBaseline":{"condition":{"test":"datum.value>500","value":"bottom"},"value":"middle"},"labelPadding":5,"grid":true}}},
    "layer":[
     {"data":{"name":"preMD"},"mark":"area","encoding":{"y2":{"field":"l"}}},
     {"data":{"values":[{"t":0.48,"v":676,"l":-676},{"t":4.53,"v":600,"l":-720}]},"mark":"rule","encoding":{"y2":{"field":"l"}}},
     {"data":{"values":[{"t":2.5,"v":676.06,"s":"MD"}]},"mark":"text","encoding":{"text":{"field":"s"}}}
    ]}
  ]}
 ]},
{"title":{"text":"PÓS CIRURGICO","font":"Open Sans","fontSize":13,"fontWeight":"bold","color":"#111","dx":-71,"offset":46},
 "spacing":28,
 "vconcat":[
  {"bounds":"flush","spacing":162,"hconcat":[
   {"width":454,"height":102,"title":{"text":"Canal 1","dx":-73,"offset":11},
    "encoding":{"x":{"field":"t","type":"quantitative","scale":{"domain":[0,5],"nice":false,"zero":false},"axis":{"values":[0,0.5,1,1.5,2,2.5,3,3.5,4,4.5,5],"labelExpr":"datum.value==0?'0.00':datum.value==5?'5.00':''","labelFlush":true,"labelPadding":2,"grid":true}},
     "y":{"field":"v","type":"quantitative","scale":{"domain":[-802.85,802.82],"nice":false,"zero":false},"axis":{"values":[-802.85,-401.4,0,401.4,802.82],"labelExpr":"datum.value==0?'uV':datum.value>500?'802.82':datum.value<-500?'-802.85':''","labelBaseline":{"condition":{"test":"datum.value>500","value":"bottom"},"value":"middle"},"labelPadding":5,"grid":true}}},
    "layer":[
     {"data":{"name":"postTE"},"mark":"area","encoding":{"y2":{"field":"l"}}},
     {"data":{"values":[{"t":0.79,"v":900,"l":-965},{"t":4.22,"v":803,"l":-885}]},"mark":"rule","encoding":{"y2":{"field":"l"}}},
     {"data":{"values":[{"t":2.5,"v":802.82,"s":"TE"}]},"mark":"text","encoding":{"text":{"field":"s"}}}
    ]},
   {"width":453,"height":104,"title":{"text":"Canal 3","dx":-75,"offset":5},
    "encoding":{"x":{"field":"t","type":"quantitative","scale":{"domain":[0,5],"nice":false,"zero":false},"axis":{"values":[0,0.5,1,1.5,2,2.5,3,3.5,4,4.5,5],"labelExpr":"datum.value==0?'0.00':datum.value==5?'5.00':''","labelFlush":true,"labelPadding":2,"grid":true}},
     "y":{"field":"v","type":"quantitative","scale":{"domain":[-802.85,802.82],"nice":false,"zero":false},"axis":{"values":[-802.85,-401.4,0,401.4,802.82],"labelExpr":"datum.value==0?'uV':datum.value>500?'802.82':datum.value<-500?'-802.85':''","labelBaseline":{"condition":{"test":"datum.value>500","value":"bottom"},"value":"middle"},"labelPadding":5,"grid":true}}},
    "layer":[
     {"data":{"name":"postTD"},"mark":"area","encoding":{"y2":{"field":"l"}}},
     {"data":{"values":[{"t":0.53,"v":750,"l":-920},{"t":4.19,"v":790,"l":-890}]},"mark":"rule","encoding":{"y2":{"field":"l"}}},
     {"data":{"values":[{"t":2.5,"v":802.82,"s":"TD"}]},"mark":"text","encoding":{"text":{"field":"s"}}}
    ]}
  ]},
  {"bounds":"flush","spacing":162,"hconcat":[
   {"width":454,"height":104,"title":{"text":"Canal 2","dx":-73,"offset":8},
    "encoding":{"x":{"field":"t","type":"quantitative","scale":{"domain":[0,5],"nice":false,"zero":false},"axis":{"values":[0,0.5,1,1.5,2,2.5,3,3.5,4,4.5,5],"labelExpr":"datum.value==0?'0.00':datum.value==5?'5.00':''","labelFlush":true,"labelPadding":2,"grid":true}},
     "y":{"field":"v","type":"quantitative","scale":{"domain":[-642.28,642.25],"nice":false,"zero":false},"axis":{"values":[-642.28,-321,0,321,642.25],"labelExpr":"datum.value==0?'uV':datum.value>500?'642.25':datum.value<-500?'-642.28':''","labelBaseline":{"condition":{"test":"datum.value>500","value":"bottom"},"value":"middle"},"labelPadding":5,"grid":true}}},
    "layer":[
     {"data":{"name":"postME"},"mark":"area","encoding":{"y2":{"field":"l"}}},
     {"data":{"values":[{"t":0.79,"v":688,"l":-758},{"t":4.21,"v":667,"l":-642}]},"mark":"rule","encoding":{"y2":{"field":"l"}}},
     {"data":{"values":[{"t":2.5,"v":642.25,"s":"ME"}]},"mark":"text","encoding":{"text":{"field":"s"}}}
    ]},
   {"width":453,"height":105,"title":{"text":"Canal 4","dx":-75,"offset":6},
    "encoding":{"x":{"field":"t","type":"quantitative","scale":{"domain":[0,5],"nice":false,"zero":false},"axis":{"values":[0,0.5,1,1.5,2,2.5,3,3.5,4,4.5,5],"labelExpr":"datum.value==0?'0.00':datum.value==5?'5.00':''","labelFlush":true,"labelPadding":2,"grid":true}},
     "y":{"field":"v","type":"quantitative","scale":{"domain":[-802.85,802.82],"nice":false,"zero":false},"axis":{"values":[-802.85,-401.4,0,401.4,802.82],"labelExpr":"datum.value==0?'uV':datum.value>500?'802.82':datum.value<-500?'-802.85':''","labelBaseline":{"condition":{"test":"datum.value>500","value":"bottom"},"value":"middle"},"labelPadding":5,"grid":true}}},
    "layer":[
     {"data":{"name":"postMD"},"mark":"area","encoding":{"y2":{"field":"l"}}},
     {"data":{"values":[{"t":0.53,"v":897,"l":-750},{"t":4.2,"v":780,"l":-725}]},"mark":"rule","encoding":{"y2":{"field":"l"}}},
     {"data":{"values":[{"t":2.5,"v":802.82,"s":"MD"}]},"mark":"text","encoding":{"text":{"field":"s"}}}
    ]}
  ]}
 ]}
]
}
